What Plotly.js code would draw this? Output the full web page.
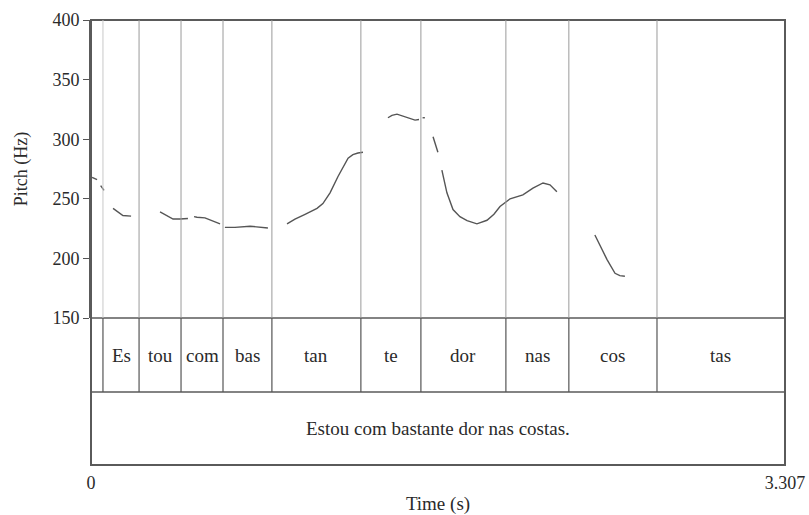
<!DOCTYPE html>
<html>
<head>
<meta charset="utf-8">
<script src="https://cdn.plot.ly/plotly-3.0.1.min.js"></script>
<style>html,body{margin:0;padding:0;background:#fff;}#chart{width:809px;height:515px;}</style>
</head>
<body>
<div id="chart"></div>
<script>
// Total duration (s)
const duration = 3.307;
// Syllable tier boundaries (s)
const boundaries = [0.057, 0.229, 0.429, 0.629, 0.862, 1.286, 1.572, 1.977, 2.277, 2.697];
// Syllable labels (intervals between boundaries, first interval empty)
const syllables = ["", "Es", "tou", "com", "bas", "tan", "te", "dor", "nas", "cos", "tas"];
// Sentence tier
const sentence = "Estou com bastante dor nas costas.";
// Pitch contour (null = unvoiced gap)
const pitchTime = [
  0.005, 0.029, null, 0.046, 0.062, null,
  0.105, 0.129, 0.152, 0.191, null,
  0.329, 0.357, 0.391, 0.424, 0.462, null,
  0.491, 0.505, 0.543, 0.576, 0.615, null,
  0.638, 0.686, 0.758, 0.805, 0.843, null,
  0.934, 0.972, 1.020, 1.077, 1.105, 1.139, 1.177, 1.205, 1.225, 1.248, 1.272, 1.296, null,
  1.415, 1.434, 1.458, 1.496, 1.520, 1.544, 1.563, null, 1.580, 1.591, null,
  1.630, 1.653, null,
  1.672, 1.696, 1.725, 1.758, 1.792, 1.839, 1.887, 1.920, 1.949, 1.997, 2.058, 2.106, 2.154, 2.187, 2.220, null,
  2.401, 2.425, 2.459, 2.497, 2.520, 2.544
];
const pitchHz = [
  268, 266, null, 261, 257, null,
  242, 239, 236, 235.5, null,
  239, 236, 233, 233, 233.5, null,
  235, 234.5, 234, 231.5, 229, null,
  226, 226, 227, 226, 225.5, null,
  229, 233, 237, 242, 246, 255, 268.7, 278, 284, 287, 288.4, 289, null,
  318, 320, 321, 318.7, 317, 316, 316.5, null, 318, 318, null,
  302, 289, null,
  274, 255, 241, 235, 231.7, 229, 232, 237, 243.5, 250, 253.3, 259, 263.3, 261.7, 256, null,
  219.6, 211, 199, 187.5, 185.5, 185
];
const yTicks = [150, 200, 250, 300, 350, 400];

// Layout geometry (paper fractions)
const tierTop = 1 - 298 / 445;   // bottom of pitch panel
const tierMid = 73 / 445;        // boundary between tiers
const font = "Liberation Serif, Times New Roman, serif";
const txt = "#2a2a2a";

const shapes = [];
const edgeColor = "#5a5a5a";
// Outer box
shapes.push({type: "rect", xref: "paper", yref: "paper", x0: 0, x1: 1, y0: 0, y1: 1,
  line: {color: edgeColor, width: 2}});
// Tier separators
[tierTop, tierMid].forEach(y => shapes.push({type: "line", xref: "paper", yref: "paper",
  x0: 0, x1: 1, y0: y, y1: y, line: {color: edgeColor, width: 1.5}}));
// Boundaries
boundaries.forEach((t, i) => {
  shapes.push({type: "line", xref: "x", yref: "paper", x0: t, x1: t, y0: tierTop, y1: 1,
    line: {color: i === 0 ? "#c8c8c8" : "#9a9a9a", width: 1}});
  shapes.push({type: "line", xref: "x", yref: "paper", x0: t, x1: t, y0: tierMid, y1: tierTop,
    line: {color: "#555", width: 1.2}});
});

const annotations = [];
const edges = [0].concat(boundaries, [duration]);
syllables.forEach((s, i) => {
  if (!s) return;
  annotations.push({xref: "x", yref: "paper", x: (edges[i] + edges[i + 1]) / 2,
    y: (tierMid + tierTop) / 2, yanchor: "middle", xanchor: "center", text: s, showarrow: false,
    font: {family: font, size: 19, color: txt}});
});
annotations.push({xref: "x", yref: "paper", x: duration / 2, y: tierMid / 2,
  yanchor: "middle", xanchor: "center",
  text: sentence, showarrow: false, font: {family: font, size: 19, color: txt}});

const trace = {
  x: pitchTime, y: pitchHz, type: "scatter", mode: "lines",
  connectgaps: false, line: {color: "#555", width: 1.4}, hoverinfo: "skip"
};

const layout = {
  width: 809, height: 515,
  margin: {l: 91, r: 24, t: 20, b: 50},
  paper_bgcolor: "#fff", plot_bgcolor: "#fff",
  showlegend: false,
  font: {family: font, color: txt, size: 18},
  xaxis: {
    range: [0, duration], anchor: "free", position: 0,
    tickvals: [0, duration], ticktext: ["0", "3.307"],
    ticks: "", showgrid: false, zeroline: false, showline: false,
    ticklabelstandoff: 5,
    tickfont: {family: font, size: 18, color: txt},
    title: {text: "Time (s)", font: {family: font, size: 19, color: txt}, standoff: 4}
  },
  yaxis: {
    domain: [tierTop, 1], range: [150, 400],
    tickvals: yTicks, ticks: "outside", ticklen: 6, tickcolor: "#555",
    showgrid: false, zeroline: false, showline: true, linecolor: edgeColor, linewidth: 2,
    tickfont: {family: font, size: 18, color: txt},
    title: {text: "Pitch (Hz)", font: {family: font, size: 18, color: txt}, standoff: 20}
  },
  shapes: shapes,
  annotations: annotations
};

Plotly.newPlot("chart", [trace], layout, {displayModeBar: false, staticPlot: true});
</script>
</body>
</html>
